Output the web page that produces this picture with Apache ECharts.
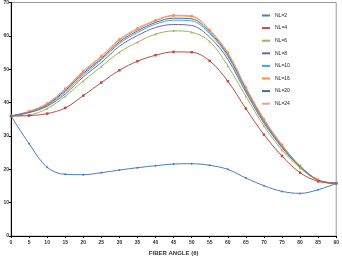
<!DOCTYPE html>
<html>
<head>
<meta charset="utf-8">
<script src="https://cdn.jsdelivr.net/npm/echarts@6/dist/echarts.min.js"></script>
<style>
  html, body { margin: 0; padding: 0; background: #fff; }
  #chart { width: 342px; height: 261px; }
</style>
</head>
<body>
<div id="chart"></div>
<script>
// fibre angles (deg)
const angles = [0, 5, 10, 15, 20, 25, 30, 35, 40, 45, 50, 55, 60, 65, 70, 75, 80, 85, 90];

const nl2  = [36.0, 27.7, 20.6, 18.5, 18.4, 19.0, 19.8, 20.5, 21.1, 21.6, 21.7, 21.2, 20.0, 17.4, 15.1, 13.4, 12.8, 13.9, 15.8];
const nl4  = [36.0, 36.1, 36.7, 38.4, 42.1, 46.0, 49.7, 52.4, 54.2, 55.2, 55.1, 52.5, 46.4, 38.2, 30.4, 24.0, 19.0, 16.4, 15.8];
const nl6  = [36.0, 36.3, 38.2, 41.9, 46.5, 50.8, 55.1, 58.1, 60.5, 61.5, 61.1, 58.3, 51.0, 41.9, 33.0, 25.8, 20.4, 16.6, 15.8];
const nl8  = [36.0, 37.0, 38.9, 42.6, 47.7, 52.0, 56.9, 60.1, 62.5, 63.4, 63.1, 59.6, 53.0, 43.1, 33.9, 26.5, 20.7, 16.7, 15.8];
const nl10 = [36.0, 37.1, 39.2, 43.2, 48.3, 52.8, 57.7, 61.0, 63.5, 64.7, 64.5, 60.6, 53.9, 43.7, 34.3, 26.8, 20.8, 16.7, 15.8];
const nl16 = [36.0, 37.3, 39.6, 44.0, 49.2, 53.7, 58.7, 62.0, 64.5, 66.0, 65.8, 61.6, 54.8, 44.4, 34.9, 27.2, 21.0, 16.8, 15.8];
const nl20 = [36.0, 37.2, 39.4, 43.6, 48.8, 53.2, 58.2, 61.5, 64.0, 65.3, 65.1, 61.1, 54.3, 44.0, 34.6, 27.0, 20.9, 16.8, 15.8];
const nl24 = [36.0, 37.4, 39.8, 44.2, 49.5, 54.0, 59.0, 62.3, 64.7, 66.2, 66.0, 61.8, 55.0, 44.6, 35.1, 27.4, 21.1, 16.9, 15.8];

const names = ["NL=2", "NL=4", "NL=6", "NL=8", "NL=10", "NL=16", "NL=20", "NL=24"];
const values = [nl2, nl4, nl6, nl8, nl10, nl16, nl20, nl24];
const colors = ["#4a7ebb", "#be4b48", "#98b954", "#7d60a0", "#46aac5", "#f69240", "#4a66a0", "#e8a3a8"];
const symbols = [
  "diamond", "rect", "triangle",
  "path://M0,0L10,10M10,0L0,10",
  "path://M0,0L10,10M10,0L0,10M5,0L5,10",
  "circle",
  "path://M5,0L5,10M0,5L10,5",
  "path://M0,4L10,4L10,6L0,6Z"
];

const chart = echarts.init(document.getElementById("chart"));

const series = names.map((n, i) => ({
  name: n,
  type: "line",
  smooth: 0.35,
  data: angles.map((a, k) => [a, values[i][k]]),
  symbol: symbols[i],
  symbolSize: 2.5,
  showSymbol: true,
  lineStyle: { color: colors[i], width: 1 },
  itemStyle: { color: colors[i], borderWidth: 0 },
  z: 10 - i
}));

chart.setOption({
  animation: false,
  backgroundColor: "#fff",
  grid: {
    left: 11, right: 5, top: 2, bottom: 21,
    show: true, borderColor: "#999", borderWidth: 1
  },
  legend: {
    orient: "vertical",
    left: 256, top: 8,
    itemWidth: 8, itemHeight: 2, itemGap: 7.6,
    textStyle: { fontSize: 5, fontFamily: "Liberation Sans", color: "#222" },
    data: names
  },
  xAxis: {
    type: "value",
    min: 0, max: 90, interval: 5,
    name: "FIBER ANGLE (θ)",
    nameLocation: "middle",
    nameGap: 11,
    nameTextStyle: { fontSize: 6, fontWeight: "bold", fontFamily: "Liberation Sans", color: "#333" },
    axisLine: { lineStyle: { color: "#000", width: 1 } },
    axisTick: { show: true, length: 2, lineStyle: { color: "#000" } },
    axisLabel: { fontSize: 5, fontWeight: "bold", fontFamily: "Liberation Sans", color: "#333", margin: 4 },
    splitLine: { show: false }
  },
  yAxis: {
    type: "value",
    min: 0, max: 70, interval: 10,
    axisLine: { show: true, lineStyle: { color: "#000", width: 1 } },
    axisTick: { show: true, length: 2, lineStyle: { color: "#000" } },
    axisLabel: { fontSize: 5, fontWeight: "bold", fontFamily: "Liberation Sans", color: "#333", margin: 2 },
    splitLine: { show: false }
  },
  series: series
});
</script>
</body>
</html>
